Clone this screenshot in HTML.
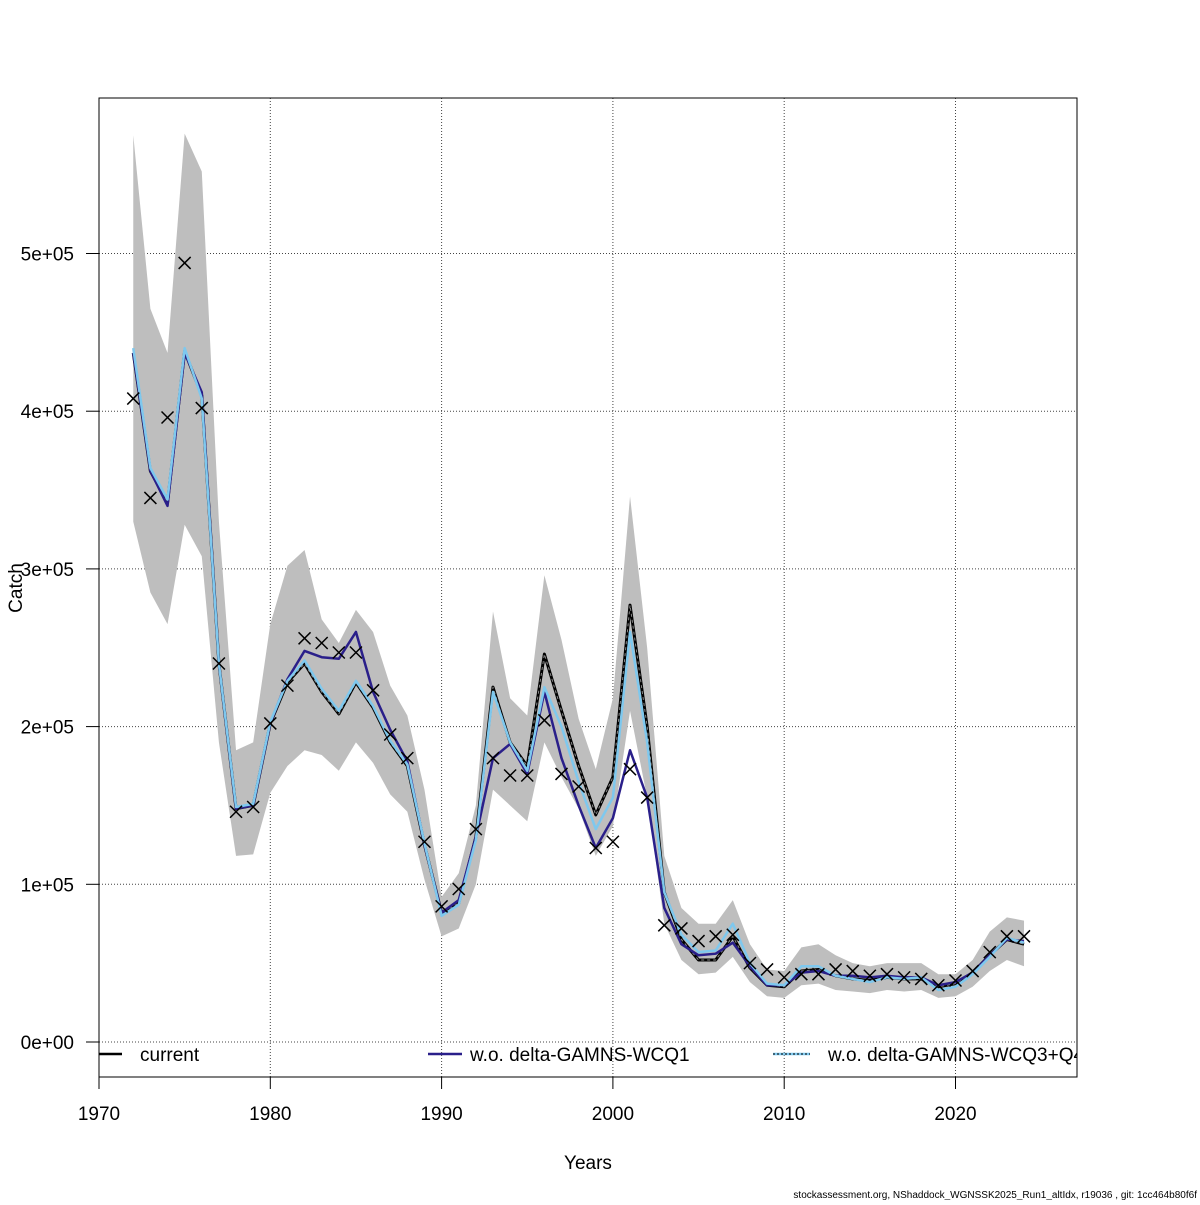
<!DOCTYPE html>
<html><head><meta charset="utf-8"><style>
body{margin:0;background:#fff;}
svg text{font-family:"Liberation Sans",sans-serif;fill:#000;}
</style></head><body>
<svg id="chart" width="1200" height="1200" xmlns="http://www.w3.org/2000/svg">
<defs><clipPath id="pc"><rect x="99" y="98" width="978" height="979"/></clipPath></defs>
<g id="grid"></g>
<g id="marks" clip-path="url(#pc)"></g>
<rect x="99" y="98" width="978" height="979" fill="none" stroke="#000" stroke-width="1"/>
<g id="axes"></g>
<text x="588" y="1169" font-size="19" text-anchor="middle">Years</text>
<text transform="translate(22,588) rotate(-90)" font-size="19" text-anchor="middle">Catch</text>
<text x="1197" y="1198" font-size="10" text-anchor="end">stockassessment.org, NShaddock_WGNSSK2025_Run1_altIdx, r19036 , git: 1cc464b80f6f</text>
<g clip-path="url(#pc)">
<line x1="99" y1="1054" x2="122" y2="1054" stroke="#000" stroke-width="2.5"/>
<text x="140" y="1061" font-size="19">current</text>
<line x1="428" y1="1054" x2="462" y2="1054" stroke="#2a1f8a" stroke-width="2.5"/>
<text x="470" y="1061" font-size="19">w.o. delta-GAMNS-WCQ1</text>
<line x1="773" y1="1054" x2="810" y2="1054" stroke="#7ec8ee" stroke-width="2.5"/>
<line x1="773" y1="1054" x2="810" y2="1054" stroke="#000" stroke-width="1" stroke-dasharray="2,2"/>
<text x="828" y="1061" font-size="19">w.o. delta-GAMNS-WCQ3+Q4</text>
</g>
</svg>
<script>
const years=[];for(let y=1972;y<=2024;y++)years.push(y);
const observed=[408,345,396,494,402,240,146,149,202,226,256,253,247,247,223,195,180,127,86,97,135,180,169,169,204,170,162,123,127,173,155,74,72,64,67,68,50,46,41,43,43,46,45,42,43,41,40,36,39,45,57,67,67];
const current=[437,362,342,438,410,240,148,150,202,228,240,222,208,228,212,190,175,125,82,88,130,225,190,175,246,210,175,144,168,277,200,95,65,52,52,67,47,36,35,45,46,42,40,39,41,40,40,35,37,44,55,65,62];
const wcq1=[437,362,340,437,412,240,148,150,202,230,248,244,243,260,222,198,178,125,82,90,130,180,189,170,222,180,150,123,142,185,155,85,62,55,56,63,48,36,36,44,45,42,42,41,42,41,41,36,38,44,55,65,64];
const wcq3=[440,364,344,440,408,240,149,151,203,229,242,224,210,229,213,191,176,126,80,87,128,222,190,172,225,200,165,135,155,260,190,95,68,57,58,75,50,37,36,48,48,42,40,38,41,40,41,33,35,43,54,66,63];
const upper=[575,465,437,576,552,330,185,190,265,302,312,268,253,274,260,226,207,160,92,107,150,273,218,207,296,255,205,173,218,346,250,118,85,75,75,90,62,46,45,60,62,55,50,48,50,50,50,43,43,52,70,79,77];
const lower=[330,285,265,328,308,190,118,119,158,175,185,182,172,190,177,157,146,103,67,72,100,160,150,140,190,168,148,118,137,210,155,75,52,43,44,54,38,29,28,36,37,33,32,31,33,32,33,28,29,35,45,52,48];
const xTicks=[1970,1980,1990,2000,2010,2020];
const yTicks=[0,100,200,300,400,500];
const yTickLabels=["0e+00","1e+05","2e+05","3e+05","4e+05","5e+05"];
const NS="http://www.w3.org/2000/svg";
const X=v=>99+(v-1970)*17.13;
const Y=v=>1042-v*1.577;
function mk(tag,attrs,parent){const e=document.createElementNS(NS,tag);for(const k in attrs)e.setAttribute(k,attrs[k]);parent.appendChild(e);return e;}
const grid=document.getElementById('grid'),marks=document.getElementById('marks'),axes=document.getElementById('axes');
xTicks.forEach(t=>{
 const l=mk('line',{x1:X(t),y1:98,x2:X(t),y2:1077,stroke:'#444','stroke-width':1,'stroke-dasharray':'1,2'},grid);
 
 
 const tk=mk('line',{x1:X(t),y1:1077,x2:X(t),y2:1089,stroke:'#000'},axes);
 
 
 const tx=mk('text',{x:X(t),y:1120,'font-size':19,'text-anchor':'middle'},axes);tx.textContent=t;
 
 
});
mk('line',{x1:X(1970),y1:1077,x2:X(2020),y2:1077,stroke:'#000'},axes);
yTicks.forEach((t,i)=>{
 const l=mk('line',{x1:99,y1:Y(t),x2:1077,y2:Y(t),stroke:'#444','stroke-width':1,'stroke-dasharray':'1,2'},grid);
 
 
 const tk=mk('line',{x1:86,y1:Y(t),x2:99,y2:Y(t),stroke:'#000'},axes);
 
 
 const tx=mk('text',{x:74,y:Y(t)+7,'font-size':19,'text-anchor':'end'},axes);tx.textContent=yTickLabels[i];
 
 
});
let d='';years.forEach((y,i)=>{d+=(i?'L':'M')+X(y)+','+Y(upper[i]);});
for(let i=years.length-1;i>=0;i--)d+='L'+X(years[i])+','+Y(lower[i]);
const band=mk('path',{d:d+'Z',fill:'#bebebe',stroke:'none'},marks);


function line(arr,color,w,dash,name){
 const p=mk('polyline',{points:years.map((y,i)=>X(y)+','+Y(arr[i])).join(' '),fill:'none',stroke:color,'stroke-width':w,'stroke-linejoin':'round'},marks);
 if(dash)p.setAttribute('stroke-dasharray',dash);
 
 
}
line(current,'#000',3,null,'line-current');
line(current,'#888',1,'3,3','line-current-dash');
line(wcq1,'#2a1f8a',2.5,null,'line-wcq1');
line(wcq3,'#7ec8ee',2.5,null,'line-wcq3');
years.forEach((y,i)=>{
 const cx=X(y),cy=Y(observed[i]),s=6;
 const g=mk('path',{d:`M${cx-s},${cy-s}L${cx+s},${cy+s}M${cx-s},${cy+s}L${cx+s},${cy-s}`,stroke:'#000','stroke-width':1.5,fill:'none'},marks);
 
 
});
</script>
</body></html>
